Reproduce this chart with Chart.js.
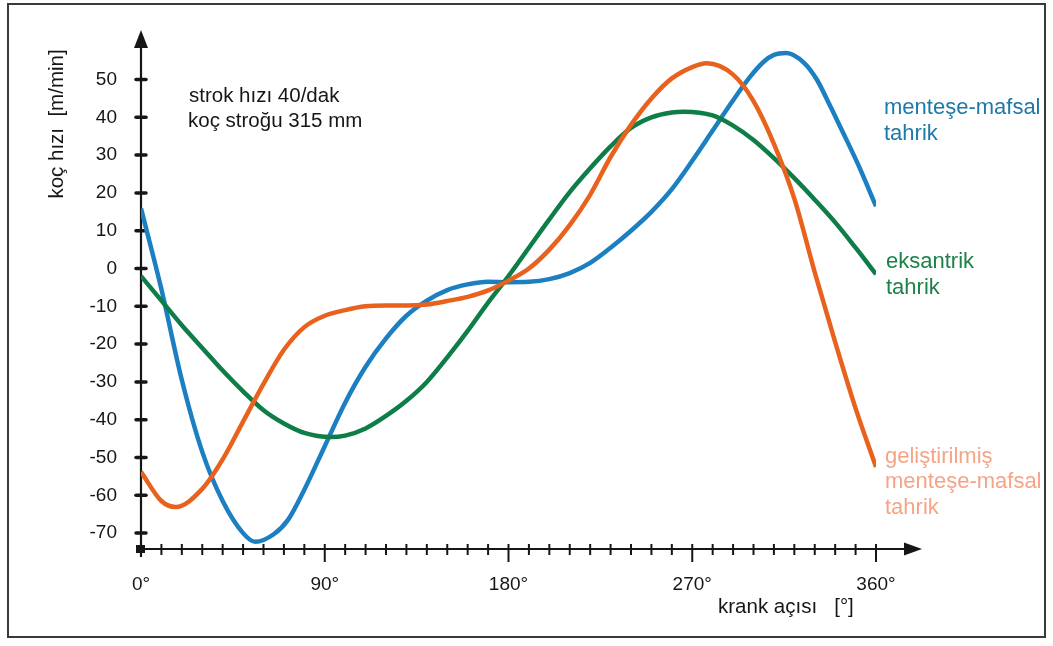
<!DOCTYPE html>
<html><head><meta charset="utf-8">
<script src="https://cdn.jsdelivr.net/npm/chart.js@4.4.1/dist/chart.umd.min.js"></script>
<style>html,body{margin:0;padding:0;background:#fff}#wrap{width:1053px;height:646px}</style>
</head><body><div id="wrap"><canvas id="c" width="1053" height="646"></canvas></div>
<script>
// crank angle (degrees) read for each curve, ram speed [m/min]
const menteseAngles = [0,10,20,30,40,50,56,65,72,80,90,100,110,120,130,140,150,160,170,180,190,200,210,220,230,240,250,260,270,280,289,298,305,310,316,325,331,338,344,351,360];
const menteseSpeed  = [15.9,-5.5,-29.5,-48.5,-61.5,-70,-72.3,-70.3,-66.5,-58.5,-47,-35.5,-26,-18.5,-12.5,-8.5,-5.7,-4.2,-3.5,-3.6,-3.5,-2.8,-1.2,1.5,5.5,10,15,21,28.5,36.5,43.7,50.5,54.7,56.5,57,54.3,50,42.5,35.8,27.8,16.5];

const eksantrikAngles = [0,10,20,30,40,50,60,70,80,93,100,110,120,130,140,150,160,170,180,190,200,210,220,230,240,250,260,266,280,290,300,310,320,330,340,350,360];
const eksantrikSpeed  = [-2,-8.5,-15,-21,-27,-32.5,-37.5,-41,-43.5,-44.6,-44.2,-42.3,-39,-35,-30,-23.5,-16.5,-9,-2,5.5,13,20.2,26.5,32.3,37.2,40,41.3,41.5,40.5,37.8,34,29.2,23.9,18.2,12.2,5.5,-1.5];

const gelistirilmisAngles = [0,10,17,30,40,50,60,70,80,90,100,110,120,130,140,150,160,170,180,190,200,210,220,230,240,250,260,270,277,290,300,310,320,330,340,350,360];
const gelistirilmisSpeed  = [-53.8,-61.5,-63.1,-58.3,-50.5,-40.5,-30.5,-21.5,-15.5,-12.5,-11,-10,-9.8,-9.8,-9.5,-8.6,-7.5,-5.8,-3.2,0,5,11.5,19.5,29.5,38,45,50.3,53.3,54.3,51.3,44.3,33,18.5,-1,-19.5,-37,-52.5];

const yTicks = [-70,-60,-50,-40,-30,-20,-10,0,10,20,30,40,50];
const xTicks = [0,90,180,270,360];
const xMinorTicks = [10,20,30,40,50,60,70,80,100,110,120,130,140,150,160,170,190,200,210,220,230,240,250,260,280,290,300,310,320,330,340,350];

const toXY = (xs, ys) => xs.map((a,i)=>({x:a,y:ys[i]}));
const INK = '#161616';
const sans = "'Liberation Sans',Arial,sans-serif";

const deco = {
  id:'deco',
  beforeDraw(ch){
    const c = ch.ctx;
    c.save();
    c.fillStyle='#fff'; c.fillRect(0,0,ch.width,ch.height);
    c.strokeStyle='#3a3a3a'; c.lineWidth=2;
    c.strokeRect(8,4,1037,633);
    c.restore();
  },
  beforeDatasetsDraw(ch){
    const c = ch.ctx, xs = ch.scales.x, ys = ch.scales.y;
    const x0 = xs.getPixelForValue(0), y0 = ys.bottom, top = ys.top;
    c.save();
    c.strokeStyle=INK; c.fillStyle=INK; c.lineWidth=2.2;
    // y axis with arrow
    c.beginPath(); c.moveTo(x0, y0+8); c.lineTo(x0, top+14); c.stroke();
    c.beginPath(); c.moveTo(x0, top); c.lineTo(x0-7, top+18); c.lineTo(x0+7, top+18); c.closePath(); c.fill();
    // x axis with arrow
    c.beginPath(); c.moveTo(x0-2, y0); c.lineTo(xs.right+32, y0); c.stroke();
    const xe = xs.right+46;
    c.beginPath(); c.moveTo(xe, y0); c.lineTo(xe-18, y0-6.5); c.lineTo(xe-18, y0+6.5); c.closePath(); c.fill();
    // y tick stubs
    c.lineWidth=3.5; c.lineCap='round';
    yTicks.forEach(v=>{ const y=ys.getPixelForValue(v); c.beginPath(); c.moveTo(x0-5,y); c.lineTo(x0+5,y); c.stroke(); });
    c.fillRect(x0-5, y0-4, 9, 8);
    // x tick marks
    c.lineCap='butt'; c.lineWidth=2;
    xMinorTicks.forEach(a=>{ const x=xs.getPixelForValue(a);
      c.beginPath(); c.moveTo(x, y0-5); c.lineTo(x, y0+6); c.stroke(); });
    xTicks.forEach(a=>{ if(a===0) return; const x=xs.getPixelForValue(a);
      c.beginPath(); c.moveTo(x, y0-5); c.lineTo(x, y0+13); c.stroke(); });
    c.restore();
  },
  afterDraw(ch){
    const c = ch.ctx;
    c.save();
    c.textBaseline='middle';
    c.fillStyle=INK; c.font='20.5px '+sans;
    c.fillText('strok hızı 40/dak', 189, 96);
    c.fillText('koç stroğu 315 mm', 188, 121);
    c.fillText('krank açısı   [°]', 718, 607);
    c.save(); c.translate(57,124); c.rotate(-Math.PI/2); c.textAlign='center';
    c.fillText('koç hızı  [m/min]', 0, 0); c.restore();
    c.font='22px '+sans;
    c.fillStyle='#1d79a8';
    c.fillText('menteşe-mafsal', 884, 108); c.fillText('tahrik', 884, 134);
    c.fillStyle='#1b8248';
    c.fillText('eksantrik', 886, 262); c.fillText('tahrik', 886, 288);
    c.fillStyle='#f6a486';
    c.fillText('geliştirilmiş', 885, 457); c.fillText('menteşe-mafsal', 885, 482); c.fillText('tahrik', 885, 508);
    c.restore();
  }
};

new Chart(document.getElementById('c'), {
  type:'line',
  data:{ datasets:[
    {label:'geliştirilmiş menteşe-mafsal tahrik', data:toXY(gelistirilmisAngles, gelistirilmisSpeed), borderColor:'#e8621e'},
    {label:'eksantrik tahrik', data:toXY(eksantrikAngles, eksantrikSpeed), borderColor:'#0f7d47'},
    {label:'menteşe-mafsal tahrik', data:toXY(menteseAngles, menteseSpeed), borderColor:'#1b7fc2'}
  ]},
  options:{
    responsive:false, animation:false, devicePixelRatio:1,
    datasets:{line:{borderWidth:4.5, pointRadius:0, cubicInterpolationMode:'monotone', fill:false, borderCapStyle:'butt'}},
    layout:{padding:{top:30,right:177,left:0,bottom:0}},
    plugins:{legend:{display:false}, tooltip:{enabled:false}},
    scales:{
      x:{type:'linear', min:0, max:360,
        grid:{display:false}, border:{display:false},
        afterBuildTicks:s=>{ s.ticks = xTicks.map(v=>({value:v})); },
        afterFit:s=>{ s.height = 97; },
        ticks:{padding:16, maxRotation:0, autoSkip:false, color:INK, font:{family:sans, size:19},
          callback:v=>v+'°'}},
      y:{type:'linear', min:-74.2, max:63.1,
        grid:{display:false}, border:{display:false},
        afterBuildTicks:s=>{ s.ticks = yTicks.map(v=>({value:v})); },
        afterFit:s=>{ s.width = 141; },
        ticks:{padding:16, autoSkip:false, color:INK, font:{family:sans, size:19},
          callback:v=>String(v)}}
    }
  },
  plugins:[deco]
});
</script></body></html>
